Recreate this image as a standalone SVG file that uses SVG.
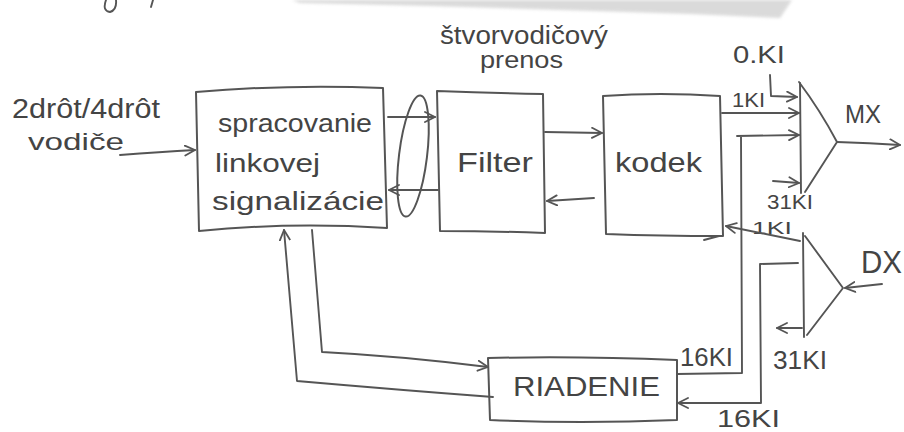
<svg xmlns="http://www.w3.org/2000/svg" width="904" height="432" viewBox="0 0 904 432">
  <defs>
    <marker id="arr" viewBox="0 0 12 12" refX="11" refY="6" markerWidth="12" markerHeight="12" markerUnits="userSpaceOnUse" orient="auto">
      <path d="M1,1 L11,6 L1,11" fill="none" stroke="#555" stroke-width="1.8" stroke-linecap="round" stroke-linejoin="round"/>
    </marker>
    <filter id="soft" x="-5%" y="-50%" width="110%" height="200%">
      <feGaussianBlur stdDeviation="1.6"/>
    </filter>
  </defs>
  <style>
    .box { fill: none; stroke: #555; stroke-width: 2; stroke-linejoin: round; }
    .ln { fill: none; stroke: #555; stroke-width: 1.9; stroke-linecap: round; stroke-linejoin: round; }
    .ar { marker-end: url(#arr); }
    .t { font-family: "Liberation Sans", Arial, sans-serif; fill: #444; }
  </style>

  <rect width="904" height="432" fill="#ffffff"/>

  <!-- pencil smudge and stray strokes along the top edge -->
  <path d="M292,0 L792,0 L780,18 L690,14 L560,10 L430,6 L300,3 Z" fill="#bdbdbd" opacity="0.55" filter="url(#soft)"/>
  <path class="ln" d="M106,0 Q102,11 110,12 Q117,10 116,0" stroke="#777"/>
  <path class="ln" d="M153,0 L151,7" stroke="#888"/>

  <!-- input label and line -->
  <g id="input">
    <text class="t" x="12" y="118" font-size="27" textLength="148" lengthAdjust="spacingAndGlyphs">2drôt/4drôt</text>
    <text class="t" x="28" y="150" font-size="24" textLength="96" lengthAdjust="spacingAndGlyphs">vodiče</text>
  </g>

  <!-- four-wire transmission note -->
  <g id="note">
    <text class="t" x="440" y="44" font-size="25" textLength="168" lengthAdjust="spacingAndGlyphs">štvorvodičový</text>
    <text class="t" x="480" y="68" font-size="23" textLength="83" lengthAdjust="spacingAndGlyphs">prenos</text>
  </g>

  <!-- line-signalling processing block -->
  <g id="spracovanie">
    <path class="box" d="M196,92 Q290,84 383,88 L387,228 Q290,222 199,231 Z"/>
    <text class="t" x="218" y="132" font-size="25" textLength="154" lengthAdjust="spacingAndGlyphs">spracovanie</text>
    <text class="t" x="215" y="172" font-size="25" textLength="105" lengthAdjust="spacingAndGlyphs">linkovej</text>
    <text class="t" x="212" y="210" font-size="25" textLength="172" lengthAdjust="spacingAndGlyphs">signalizácie</text>
  </g>

  <!-- four-wire grouping ellipse -->
  <g id="stvorvodic">
    <ellipse class="box" cx="413" cy="156" rx="14" ry="61" transform="rotate(7 413 156)"/>
  </g>

  <g id="filter">
    <path class="box" d="M437,91 Q490,93 543,94 L545,233 Q490,231 440,231 Z"/>
    <text class="t" x="457" y="172" font-size="28" textLength="76" lengthAdjust="spacingAndGlyphs">Filter</text>
  </g>

  <g id="kodek">
    <path class="box" d="M603,96 Q660,92 720,96 L723,236 Q660,236 606,234 Z"/>
    <text class="t" x="615" y="172" font-size="28" textLength="87" lengthAdjust="spacingAndGlyphs">kodek</text>
  </g>

  <g id="riadenie">
    <path class="box" d="M488,358 Q580,356 677,360 L677,420 Q580,424 490,420 Z"/>
    <text class="t" x="513" y="396" font-size="28" textLength="147" lengthAdjust="spacingAndGlyphs">RIADENIE</text>
  </g>

  <!-- multiplexer -->
  <g id="mx">
    <path class="ln" d="M800,83 L801,193"/>
    <path class="ln" d="M799,82 Q820,110 837,142 L805,192"/>
    <text class="t" x="845" y="123" font-size="26" textLength="36" lengthAdjust="spacingAndGlyphs">MX</text>
  </g>

  <!-- demultiplexer -->
  <g id="dx">
    <path class="ln" d="M803,233 L804,337"/>
    <path class="ln" d="M805,236 L843,288 L807,335"/>
    <text class="t" x="861" y="273" font-size="31" textLength="41" lengthAdjust="spacingAndGlyphs">DX</text>
  </g>

  <!-- timeslot labels -->
  <g id="labels">
    <text class="t" x="733" y="63" font-size="24" textLength="52" lengthAdjust="spacingAndGlyphs">0.KI</text>
    <text class="t" x="732" y="107" font-size="21" textLength="33" lengthAdjust="spacingAndGlyphs">1KI</text>
    <text class="t" x="767" y="209" font-size="20" textLength="46" lengthAdjust="spacingAndGlyphs">31KI</text>
    <text class="t" x="752" y="234" font-size="17" textLength="40" lengthAdjust="spacingAndGlyphs">1KI</text>
    <text class="t" x="680" y="366" font-size="25" textLength="53" lengthAdjust="spacingAndGlyphs">16KI</text>
    <text class="t" x="773" y="369" font-size="25" textLength="54" lengthAdjust="spacingAndGlyphs">31KI</text>
    <text class="t" x="717" y="427" font-size="23" textLength="63" lengthAdjust="spacingAndGlyphs">16KI</text>
  </g>

  <g id="connectors">
    <!-- input into line-signalling block -->
    <path class="ln ar" d="M120,155 Q160,152 195,150"/>
    <!-- four-wire pair to and from the filter -->
    <path class="ln ar" d="M388,117 L435,117"/>
    <path class="ln ar" d="M438,190 L389,190"/>
    <!-- filter and codec -->
    <path class="ln ar" d="M545,132 L602,133"/>
    <path class="ln ar" d="M594,198 L547,201"/>
    <!-- codec to MX, timeslot 1 -->
    <path class="ln ar" d="M722,113 L799,113"/>
    <!-- timeslot 0 into MX -->
    <path class="ln ar" d="M770,75 L771,96 L797,97"/>
    <!-- control to MX, timeslot 16 -->
    <path class="ln ar" d="M677,374 L742,373 L741,136 L737,136 L799,135"/>
    <!-- timeslot 31 into MX -->
    <path class="ln ar" d="M773,181 L799,183"/>
    <!-- MX output -->
    <path class="ln ar" d="M837,142 Q870,143 900,145"/>
    <!-- DX input -->
    <path class="ln ar" d="M882,284 L845,288"/>
    <!-- DX to codec, timeslot 1 -->
    <path class="ln ar" d="M800,241 L726,226"/>
    <path class="ln" d="M704,240 L719,236"/>
    <!-- DX to control, timeslot 16 -->
    <path class="ln ar" d="M798,263 L760,264 L761,403 L678,403"/>
    <!-- timeslot 31 out of DX -->
    <path class="ln ar" d="M802,328 L777,328"/>
    <!-- line-signalling block to control -->
    <path class="ln ar" d="M312,230 L322,352 Q400,356 488,367"/>
    <!-- control back to line-signalling block -->
    <path class="ln ar" d="M493,397 Q400,390 297,381 L284,230"/>
  </g>
</svg>
